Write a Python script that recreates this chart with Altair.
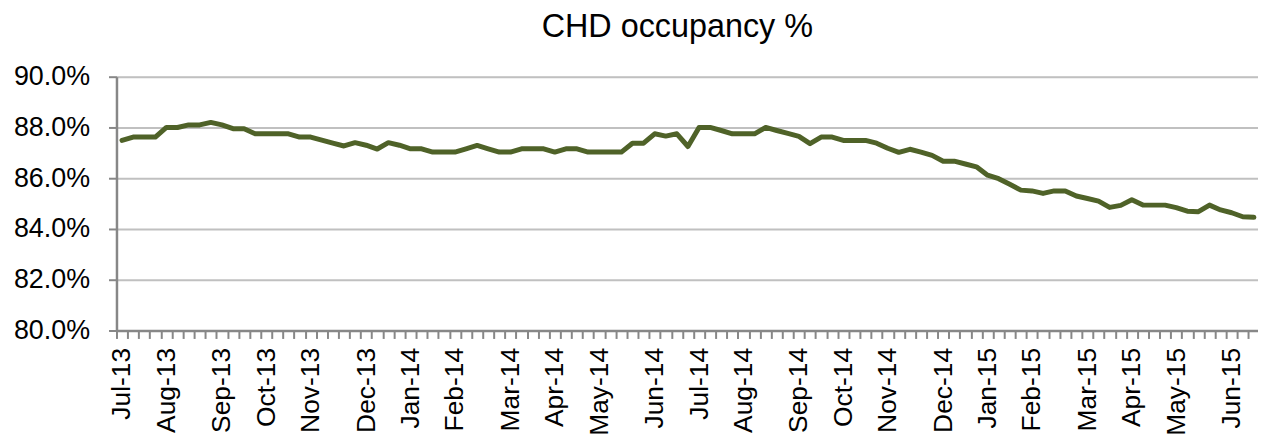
import altair as alt
import pandas as pd

# Weekly CHD occupancy (%), first week of Jul-13 onwards
occupancy = [
    87.49, 87.62, 87.62, 87.62, 88.00, 88.00, 88.10, 88.10, 88.20, 88.10,
    87.95, 87.95, 87.75, 87.75, 87.75, 87.75, 87.62, 87.62, 87.50, 87.38,
    87.27, 87.40, 87.30, 87.15, 87.40, 87.30, 87.16, 87.16, 87.03, 87.03,
    87.03, 87.16, 87.29, 87.16, 87.03, 87.03, 87.16, 87.16, 87.16, 87.03,
    87.16, 87.16, 87.03, 87.03, 87.03, 87.03, 87.38, 87.38, 87.75, 87.66,
    87.75, 87.25, 88.00, 88.00, 87.88, 87.75, 87.75, 87.75, 88.00, 87.88,
    87.77, 87.65, 87.36, 87.62, 87.62, 87.49, 87.49, 87.49, 87.38, 87.18,
    87.02, 87.14, 87.03, 86.90, 86.67, 86.67, 86.56, 86.45, 86.12, 85.98,
    85.76, 85.53, 85.50, 85.40, 85.50, 85.50, 85.30, 85.20, 85.10, 84.85,
    84.93, 85.15, 84.94, 84.94, 84.94, 84.84, 84.70, 84.68, 84.94, 84.75,
    84.64, 84.48, 84.46,
]

# Month labels and the week (category) on which each one sits
month_labels = [
    "Jul-13", "Aug-13", "Sep-13", "Oct-13", "Nov-13", "Dec-13", "Jan-14", "Feb-14",
    "Mar-14", "Apr-14", "May-14", "Jun-14", "Jul-14", "Aug-14", "Sep-14", "Oct-14",
    "Nov-14", "Dec-14", "Jan-15", "Feb-15", "Mar-15", "Apr-15", "May-15", "Jun-15",
]
month_weeks = [0, 4, 9, 13, 17, 22, 26, 30, 35, 39, 43, 48, 52, 56, 61, 65,
               69, 74, 78, 82, 87, 91, 95, 100]

y_ticks = [80, 82, 84, 86, 88, 90]

n = len(occupancy)
df = pd.DataFrame({"week": list(range(n)), "occupancy": occupancy})

label_arr = [""] * (n + 2)
for lab, w in zip(month_labels, month_weeks):
    label_arr[w] = lab
arr_expr = "[" + ",".join("'" + s + "'" for s in label_arr) + "]"
label_expr = arr_expr + "[round(datum.value + 0.5)]"

tick_vals = [k - 0.5 for k in range(n)]  # category boundaries
WIDTH = 1147
band_px = 11.15
x_max = WIDTH / band_px - 0.5

FONT = "Liberation Sans"

chart = (
    alt.Chart(df)
    .mark_line(color="#4f6228", strokeWidth=5, strokeJoin="round", strokeCap="round")
    .encode(
        x=alt.X(
            "week:Q",
            scale=alt.Scale(domain=[-0.5, x_max], nice=False, zero=False),
            axis=alt.Axis(
                values=tick_vals,
                labelExpr=label_expr,
                labelAngle=270,
                labelAlign="right",
                labelBaseline="middle",
                labelOffset=band_px / 2,
                labelOverlap=False,
                labelBound=False,
                labelFlush=False,
                labelFont=FONT,
                labelFontSize=26.5,
                labelColor="#000000",
                labelPadding=9,
                tickSize=8,
                tickWidth=2,
                tickColor="#878787",
                domainColor="#878787",
                domainWidth=2.5,
                grid=False,
                title=None,
            ),
        ),
        y=alt.Y(
            "occupancy:Q",
            scale=alt.Scale(domain=[80, 90], nice=False, zero=False),
            axis=alt.Axis(
                values=y_ticks,
                labelExpr="format(datum.value, '.1f') + '%'",
                labelFont=FONT,
                labelFontSize=27,
                labelColor="#000000",
                labelPadding=19,
                tickSize=8,
                tickWidth=2,
                tickColor="#878787",
                domainColor="#878787",
                domainWidth=2.5,
                grid=True,
                gridColor="#c0c0c0",
                gridWidth=2,
                title=None,
            ),
        ),
    )
    .properties(
        width=WIDTH,
        height=255,
        autosize=alt.AutoSizeParams(type="none"),
        padding={"left": 109, "top": 68, "right": 0, "bottom": 106},
        title=alt.TitleParams(
            "CHD occupancy %",
            font=FONT,
            fontSize=32.5,
            fontWeight="normal",
            color="#000000",
            anchor="middle",
            baseline="top",
            offset=19,
            dx=-10,
        ),
    )
    .configure_view(stroke=None)
    .configure(background="white")
)

chart.save("out.html", embed_options={"renderer": "svg", "actions": False})
